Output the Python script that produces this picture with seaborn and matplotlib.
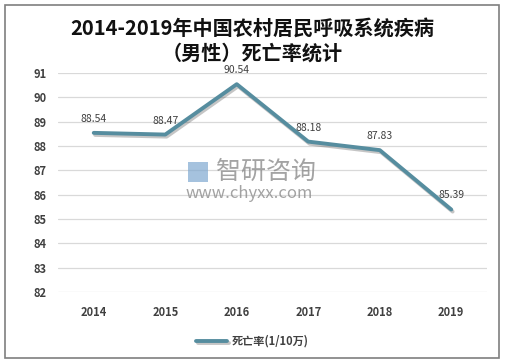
import matplotlib
matplotlib.use("Agg")
import matplotlib.pyplot as plt
import seaborn as sns
import pandas as pd
from matplotlib.patches import Rectangle
import matplotlib.patheffects as pe

years = ["2014", "2015", "2016", "2017", "2018", "2019"]
values = [88.54, 88.47, 90.54, 88.18, 87.83, 85.39]
series_name = "死亡率(1/10万)"
title = "2014-2019年中国农村居民呼吸系统疾病\n（男性）死亡率统计"
yticks = [82, 83, 84, 85, 86, 87, 88, 89, 90, 91]

sns.set_theme(style="white")
plt.rcParams['font.family'] = ['Noto Sans CJK SC', 'DejaVu Sans']

df = pd.DataFrame({"year": years, "value": values, "series": series_name})

fig = plt.figure(figsize=(5.05, 3.64), dpi=100)
ax = fig.add_axes([58/505, 1-292/364, (487-58)/505, (292-73)/364])

color = "#568D9F"
sns.lineplot(data=df, x="year", y="value", hue="series", palette=[color],
             sort=False, linewidth=2.8, ax=ax,
             path_effects=[pe.SimpleLineShadow(offset=(1, -1.5), alpha=0.25), pe.Normal()])

ax.set_ylim(82, 91)
ax.set_xlim(-0.5, 5.5)
ax.set_yticks(yticks)
ax.set_yticklabels([str(t) for t in yticks], fontsize=8, color="#404040", fontweight="bold")
ax.set_xticks(range(len(years)))
ax.set_xticklabels(years, fontsize=8, color="#404040", fontweight="bold")
ax.tick_params(axis="both", length=0, pad=8)
ax.tick_params(axis="x", pad=10)
ax.set_xlabel("")
ax.set_ylabel("")
ax.grid(axis="y", color="#D9D9D9", linewidth=0.9)
for s in ax.spines.values():
    s.set_visible(False)

for i, v in enumerate(values):
    ax.annotate(f"{v:.2f}", (i, v), xytext=(0, 6.5), textcoords="offset points",
                ha="center", va="bottom", fontsize=7.5, color="#404040")

leg = ax.legend(loc="center", bbox_to_anchor=(0.5, 1 - 341/364), bbox_transform=fig.transFigure,
                frameon=False, fontsize=8, handlelength=2.8, handletextpad=0.4)
for t in leg.get_texts():
    t.set_color("#404040")
    t.set_fontweight("bold")

fig.text(0.5, 1 - 41/364, title, ha="center", va="center", fontsize=14.5,
         fontweight="bold", color="#111111", linespacing=1.15)

# watermark
fig.patches.append(Rectangle((188/505, 1 - 182/364), 20/505, 20/364, transform=fig.transFigure,
                             fill=True, facecolor="#7FA8D0", edgecolor="none", alpha=0.7))
fig.text(266/505, 1 - 172/364, "智研咨询", ha="center", va="center", fontsize=18,
         color="#8C8C8C", alpha=0.8)
fig.text(249/505, 1 - 194/364, "www.chyxx.com", ha="center", va="center", fontsize=12,
         color="#8C8C8C", alpha=0.8)

fig.patches.append(Rectangle((5/505, 1 - 358/364), 494/505, 353/364, transform=fig.transFigure,
                             fill=False, edgecolor="#7F7F7F", linewidth=1.2))

fig.savefig("out.png", dpi=100, facecolor="white")
